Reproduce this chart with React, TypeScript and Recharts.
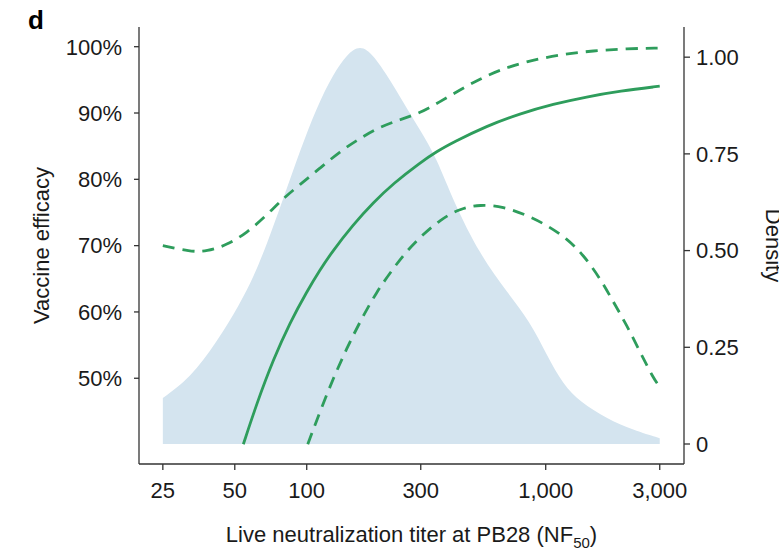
import React from "react";
import {
  ComposedChart,
  Area,
  Line,
  XAxis,
  YAxis,
  Label,
} from "recharts";

// titer (NF50) vs density of the PB28 titer distribution
const densityTiter = [25, 32.5, 42, 52.6, 59.8, 68, 79.8, 93.7, 110, 129, 147, 167, 190, 230, 262, 298, 350, 411, 531, 687, 860, 1010, 1186, 1392, 1800, 2325, 3000];
const densityValue = [0.119, 0.17, 0.263, 0.363, 0.431, 0.515, 0.635, 0.758, 0.87, 0.956, 1.007, 1.032, 1.008, 0.928, 0.868, 0.812, 0.739, 0.627, 0.489, 0.394, 0.316, 0.23, 0.153, 0.109, 0.066, 0.036, 0.015];

// estimated vaccine efficacy (%)
const effTiter = [54.3, 61.8, 72.5, 85.1, 100, 113.7, 127.2, 156.7, 190, 230, 298, 350, 411, 566, 780, 1076, 1484, 2046, 3000];
const effValue = [40.05, 46.2, 52.85, 58.4, 63.05, 66.35, 69.0, 73.2, 76.5, 79.35, 82.5, 84.2, 85.6, 88.05, 89.9, 91.35, 92.45, 93.3, 94.05];

// upper and lower 95% confidence bounds (%)
const upperTiter = [25, 32.5, 38.2, 46.3, 56.1, 68, 79.8, 93.7, 113.7, 137.8, 167, 202.6, 245.7, 298, 361, 438, 531, 644, 833, 1148, 1582, 2182, 3000];
const upperValue = [70.0, 69.1, 69.1, 70.1, 71.9, 74.6, 77.15, 79.2, 81.7, 84.2, 86.2, 87.9, 89.0, 90.0, 91.7, 93.5, 95.15, 96.5, 97.8, 98.8, 99.4, 99.7, 99.8];

const lowerTiter = [101, 113.7, 129.2, 147, 167, 196, 230, 254, 298, 361, 438, 531, 665, 833, 1010, 1224, 1437, 1687, 1917, 2182, 2480, 2820, 3000];
const lowerValue = [40.05, 45.0, 50.0, 54.5, 58.5, 63.06, 66.5, 68.6, 71.3, 73.9, 75.6, 76.2, 75.9, 74.6, 73.1, 71.1, 68.6, 65.1, 61.55, 58.0, 54.0, 50.0, 48.7];

const xTicks = [25, 50, 100, 300, 1000, 3000];
const effTicks = [50, 60, 70, 80, 90, 100];
const densityTicks = [0, 0.25, 0.5, 0.75, 1];

const densityData = densityTiter.map((x, i) => ({ x, d: densityValue[i] }));
const effData = effTiter.map((x, i) => ({ x, v: effValue[i] }));
const upperData = upperTiter.map((x, i) => ({ x, v: upperValue[i] }));
const lowerData = lowerTiter.map((x, i) => ({ x, v: lowerValue[i] }));

const FONT = "'Liberation Sans', Arial, Helvetica, sans-serif";
const GREEN = "#2e9d5c";
const AXIS = "#333333";
const tickStyle = { fill: "#1a1a1a", fontSize: 22, fontFamily: FONT };

export default function App() {
  return (
    <div style={{ position: "absolute", left: 0, top: 0, background: "#fff" }}>
      <ComposedChart
        width={779}
        height={550}
        margin={{ top: 27, right: 0, bottom: 0, left: 0 }}
      >
        <XAxis
          type="number"
          dataKey="x"
          scale="log"
          domain={[19.87, 3790]}
          allowDataOverflow
          ticks={xTicks}
          tickFormatter={(v: number) => v.toLocaleString("en-US")}
          tick={tickStyle}
          tickSize={6}
          tickMargin={12}
          height={86}
          stroke={AXIS}
          strokeWidth={1.3}
        >
          <Label
            content={() => (
              <text
                x={411.5}
                y={542}
                textAnchor="middle"
                fontFamily={FONT}
                fontSize={22}
                fill="#1a1a1a"
              >
                Live neutralization titer at PB28 (NF
                <tspan fontSize={15} dy={6}>50</tspan>
                <tspan dy={-6}>)</tspan>
              </text>
            )}
          />
        </XAxis>
        <YAxis
          yAxisId="eff"
          orientation="left"
          type="number"
          width={139}
          domain={[37.07, 102.97]}
          allowDataOverflow
          ticks={effTicks}
          tickFormatter={(v: number) => `${v}%`}
          tick={tickStyle}
          tickSize={5}
          tickMargin={12}
          stroke={AXIS}
          strokeWidth={1.3}
        >
          <Label
            content={() => (
              <g>
                <text
                  x={49}
                  y={245.5}
                  transform="rotate(-90 49 245.5)"
                  textAnchor="middle"
                  fontFamily={FONT}
                  fontSize={22}
                  fill="#1a1a1a"
                >
                  Vaccine efficacy
                </text>
                <text
                  x={28}
                  y={29}
                  fontFamily={FONT}
                  fontWeight="bold"
                  fontSize={26}
                  fill="#000"
                >
                  d
                </text>
              </g>
            )}
          />
        </YAxis>
        <YAxis
          yAxisId="dens"
          orientation="right"
          type="number"
          width={95}
          domain={[-0.0517, 1.078]}
          allowDataOverflow
          ticks={densityTicks}
          tickFormatter={(v: number) => (v === 0 ? "0" : v.toFixed(2))}
          tick={tickStyle}
          tickSize={6}
          tickMargin={6}
          stroke={AXIS}
          strokeWidth={1.3}
        >
          <Label
            content={() => (
              <text
                x={766}
                y={245.5}
                transform="rotate(90 766 245.5)"
                textAnchor="middle"
                fontFamily={FONT}
                fontSize={22}
                fill="#1a1a1a"
              >
                Density
              </text>
            )}
          />
        </YAxis>

        <Area
          yAxisId="dens"
          data={densityData}
          dataKey="d"
          type="basis"
          baseValue={0}
          fill="#d4e4ef"
          fillOpacity={1}
          stroke="none"
          isAnimationActive={false}
          dot={false}
          activeDot={false}
        />
        <Line
          yAxisId="eff"
          data={upperData}
          dataKey="v"
          type="basis"
          stroke={GREEN}
          strokeWidth={2.8}
          strokeDasharray="12 8"
          dot={false}
          activeDot={false}
          isAnimationActive={false}
        />
        <Line
          yAxisId="eff"
          data={lowerData}
          dataKey="v"
          type="basis"
          stroke={GREEN}
          strokeWidth={2.8}
          strokeDasharray="12 8"
          dot={false}
          activeDot={false}
          isAnimationActive={false}
        />
        <Line
          yAxisId="eff"
          data={effData}
          dataKey="v"
          type="basis"
          stroke={GREEN}
          strokeWidth={2.8}
          dot={false}
          activeDot={false}
          isAnimationActive={false}
        />
      </ComposedChart>
    </div>
  );
}
